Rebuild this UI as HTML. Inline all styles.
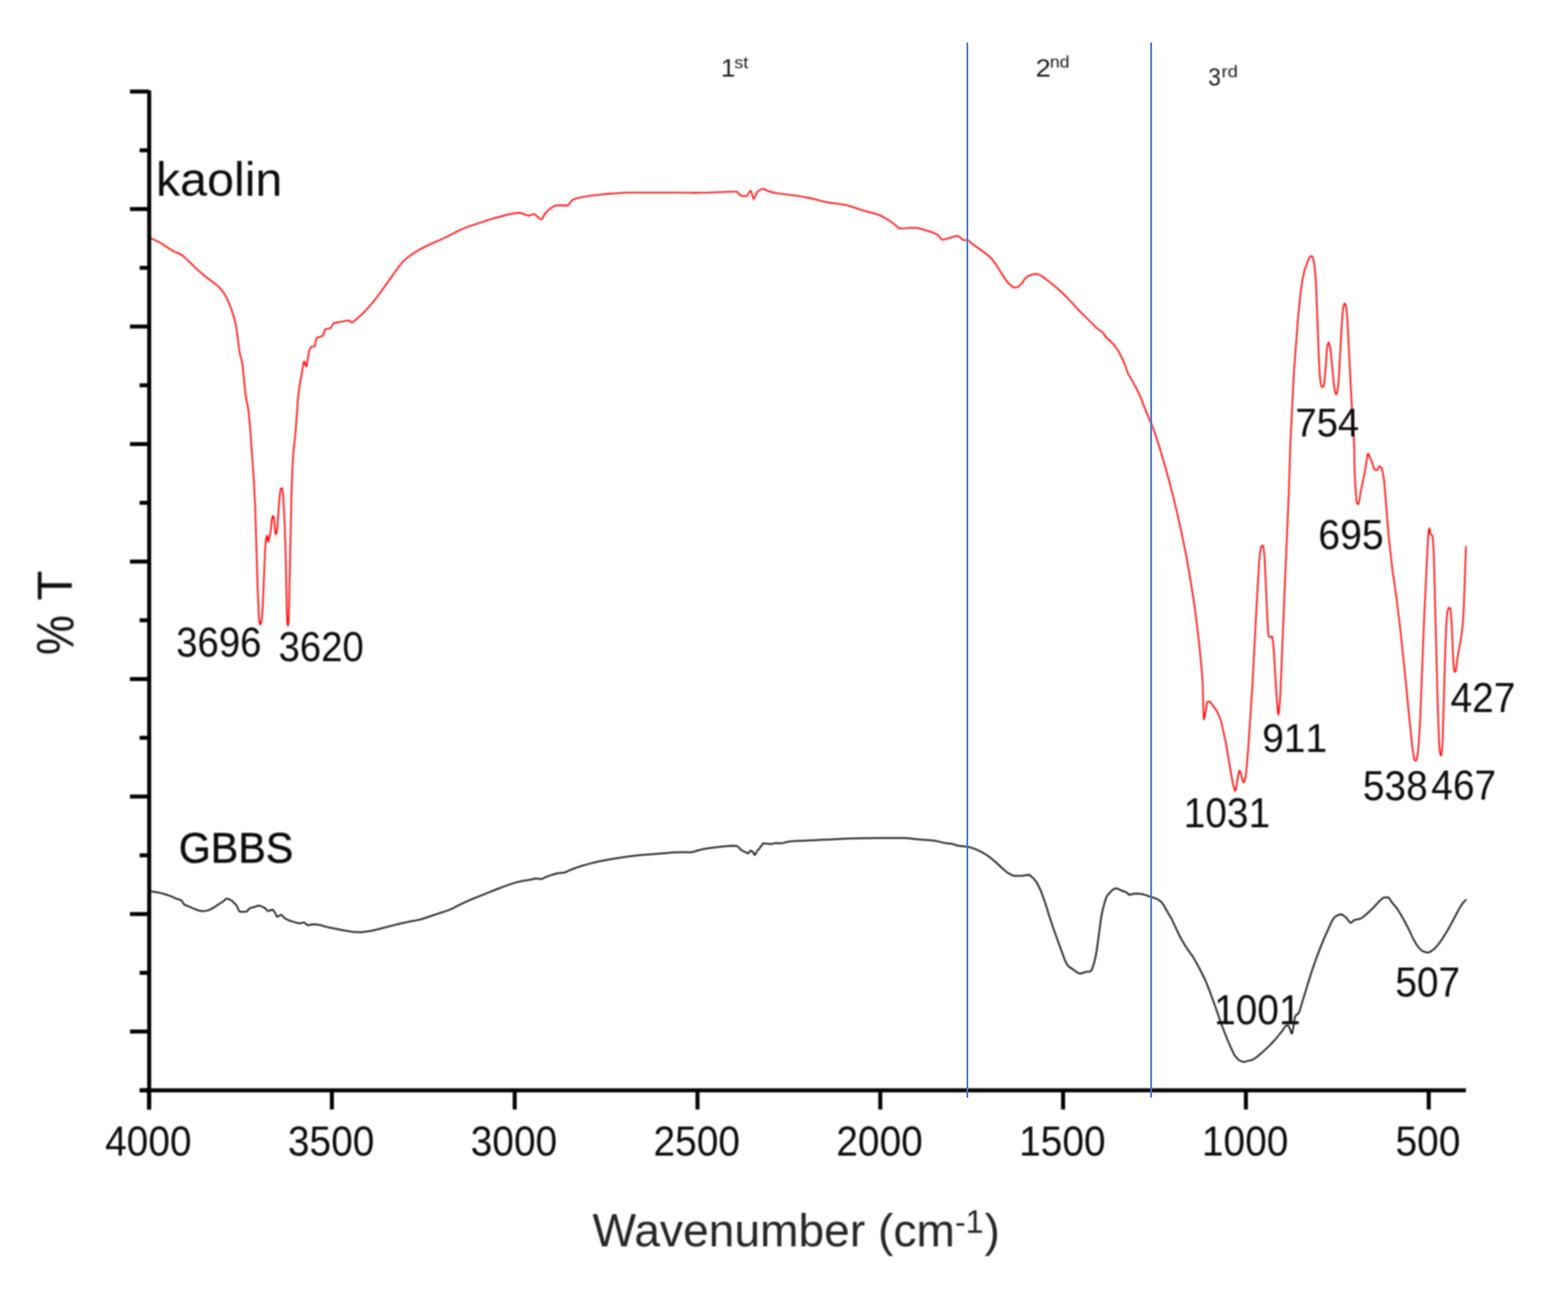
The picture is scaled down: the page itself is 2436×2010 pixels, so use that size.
<!DOCTYPE html>
<html lang="en">
<head>
<meta charset="utf-8">
<title>FTIR spectra of kaolin and GBBS</title>
<style>
html,body{margin:0;padding:0;background:#fff;}
body{width:2436px;height:2010px;overflow:hidden;}
svg{display:block;font-family:"Liberation Sans",sans-serif;font-kerning:none;}
</style>
</head>
<body>
<svg width="2436" height="2010" viewBox="0 0 2436 2010">
<defs><filter id="soft" filterUnits="userSpaceOnUse" x="0" y="0" width="2436" height="2010"><feGaussianBlur stdDeviation="1.2"/></filter><filter id="soft2" filterUnits="userSpaceOnUse" x="0" y="0" width="2436" height="2010"><feGaussianBlur stdDeviation="1.15"/></filter><filter id="soft3" filterUnits="userSpaceOnUse" x="0" y="0" width="2436" height="2010"><feGaussianBlur stdDeviation="0.85"/></filter><filter id="soft4" filterUnits="userSpaceOnUse" x="0" y="0" width="2436" height="2010"><feGaussianBlur stdDeviation="0.7"/></filter></defs>
<rect width="2436" height="2010" fill="#fff"/>
<g id="curves" fill="none" stroke-linejoin="round" stroke-linecap="round">
<polyline filter="url(#soft2)" stroke="#ff0000" stroke-width="2.35" points="232.7,369.3 239.2,372.2 245.7,375.5 252.2,379.0 258.7,383.3 265.2,387.7 271.7,391.3 278.2,393.9 283.2,396.6 289.7,402.5 296.2,408.7 302.7,415.0 308.7,420.7 315.2,426.2 321.7,431.5 328.2,436.3 334.7,441.0 341.2,447.1 347.7,455.0 352.2,462.5 358.7,478.0 363.7,493.3 366.7,506.0 368.7,519.8 371.7,543.9 372.7,549.4 375.7,560.7 376.7,566.2 381.2,610.9 382.2,618.4 385.2,632.5 386.2,638.9 389.2,672.5 394.7,752.2 396.4,785.8 400.2,912.4 402.2,959.5 402.7,964.5 403.2,967.2 403.7,969.1 404.2,970.1 404.5,970.3 404.7,970.1 405.2,968.9 406.4,963.3 407.2,956.0 408.3,940.2 411.7,857.1 412.7,841.7 413.7,835.3 414.2,833.2 414.7,832.2 414.9,832.1 415.2,832.9 416.2,839.6 416.8,841.7 417.2,841.1 420.2,827.1 420.7,824.0 422.2,807.4 422.7,804.7 423.7,802.0 424.2,801.3 424.5,801.2 424.7,801.4 425.2,803.5 426.7,815.1 427.7,826.5 428.2,829.9 428.4,830.2 428.7,829.9 429.2,828.9 430.3,824.4 430.7,820.9 433.7,778.9 435.2,764.3 435.7,760.8 436.2,759.4 437.2,758.3 438.0,758.0 438.2,758.2 438.7,760.1 440.2,773.2 442.2,812.8 443.8,863.0 445.7,952.5 446.2,964.3 446.7,969.6 447.3,972.2 447.7,970.7 448.5,963.3 448.7,957.7 452.7,772.2 453.7,740.9 454.7,719.5 455.7,704.4 459.3,670.0 462.7,621.6 465.2,600.7 471.2,565.7 471.7,563.6 472.2,562.1 472.8,561.5 473.2,562.0 475.2,568.4 475.7,569.2 475.9,569.2 476.2,568.9 476.7,567.3 479.7,547.2 480.5,544.2 482.2,540.5 483.2,539.0 483.7,538.6 488.2,538.4 488.7,537.8 489.2,536.2 491.2,526.9 491.7,525.4 492.2,524.8 498.7,522.6 501.2,521.4 501.7,521.0 502.2,520.3 504.7,512.7 505.2,511.7 505.7,511.3 512.2,509.8 513.7,509.2 514.7,508.0 517.7,502.9 518.7,501.9 525.2,500.5 531.7,499.6 538.2,498.2 542.2,497.9 542.7,498.0 545.2,500.5 545.7,500.9 546.7,500.9 548.7,500.1 555.2,494.4 561.7,488.7 568.2,482.2 574.7,475.1 581.2,467.2 587.7,458.6 594.2,449.8 600.7,440.7 607.2,431.5 613.6,422.6 619.7,414.2 626.2,406.1 632.7,400.4 639.2,395.6 645.7,391.4 652.2,387.6 658.7,384.1 665.2,380.9 671.7,377.9 678.2,375.1 684.7,372.2 691.2,369.3 697.7,366.1 704.2,362.7 710.7,359.1 717.2,356.0 723.7,353.5 730.0,351.2 736.2,349.1 742.7,347.0 749.2,344.8 755.7,342.6 762.2,340.6 768.7,338.7 775.0,337.0 781.2,335.3 787.7,333.5 794.2,332.2 800.7,331.1 807.2,330.5 811.2,331.3 817.7,334.1 821.7,335.0 828.2,332.8 829.7,332.7 831.2,333.3 837.7,338.8 839.7,340.4 840.9,340.8 841.7,340.5 842.7,339.3 846.2,332.6 852.7,325.5 859.2,321.1 863.7,319.1 870.2,318.8 876.7,319.0 881.7,319.5 882.7,319.0 884.7,316.6 887.7,312.0 888.7,311.0 895.2,308.2 901.7,306.6 908.2,305.4 914.7,304.4 921.2,303.6 927.7,302.8 934.2,302.1 940.7,301.5 947.1,301.0 953.2,300.6 959.7,300.2 966.2,299.7 972.7,299.4 979.2,299.2 985.7,299.1 991.7,299.1 998.2,299.1 1004.7,299.1 1011.2,299.1 1017.7,299.1 1024.2,299.1 1030.7,299.1 1037.2,299.1 1043.6,299.1 1049.7,299.1 1056.2,299.2 1062.7,299.3 1069.2,299.4 1075.7,299.5 1082.2,299.5 1088.2,299.4 1094.7,299.3 1101.2,299.1 1107.7,298.8 1114.2,298.6 1120.7,298.3 1127.2,298.1 1133.7,297.8 1140.2,297.6 1144.2,297.6 1145.2,298.0 1150.2,303.4 1151.2,304.0 1157.7,304.8 1159.7,304.8 1160.7,304.0 1164.7,297.5 1165.7,296.6 1166.3,296.4 1166.7,296.7 1167.2,297.7 1169.7,306.7 1170.2,308.0 1170.7,308.7 1171.2,308.7 1171.7,308.3 1172.7,306.6 1175.7,299.4 1176.7,297.9 1181.7,294.4 1184.7,293.4 1186.2,293.4 1192.7,296.6 1199.2,298.5 1205.7,299.9 1211.7,300.8 1218.2,301.6 1224.7,302.4 1231.2,303.3 1237.7,304.2 1244.2,305.2 1250.7,306.3 1257.2,307.5 1263.7,309.0 1270.2,310.6 1276.7,312.3 1283.2,313.9 1289.7,315.0 1296.2,315.9 1302.7,316.7 1309.2,317.6 1315.7,318.8 1322.2,320.6 1328.7,322.8 1335.2,325.1 1341.7,327.2 1348.2,329.0 1354.7,330.4 1361.2,332.3 1367.7,334.9 1374.2,338.2 1380.7,342.0 1387.2,346.6 1393.7,351.8 1396.7,354.4 1398.2,355.0 1404.7,354.7 1411.2,354.2 1417.7,354.0 1424.2,354.0 1430.7,355.4 1437.2,357.4 1443.2,359.1 1449.7,361.4 1456.2,364.5 1457.7,365.7 1462.2,371.4 1463.2,372.1 1464.2,372.4 1470.7,371.2 1477.2,368.8 1483.7,366.9 1487.7,366.3 1488.7,366.7 1495.2,372.0 1496.7,372.8 1503.2,373.2 1504.2,373.3 1505.7,374.3 1510.2,378.9 1516.7,383.3 1523.2,387.8 1529.7,392.8 1536.2,397.8 1541.7,403.2 1548.2,412.3 1554.7,422.6 1561.2,433.2 1567.7,441.0 1573.7,445.9 1575.2,446.6 1580.2,446.2 1582.2,445.2 1588.2,439.1 1592.7,432.3 1597.2,428.9 1603.7,426.4 1609.2,425.3 1613.2,426.2 1619.7,429.5 1626.2,434.6 1632.7,439.7 1639.2,444.9 1645.2,450.2 1651.7,456.3 1658.2,462.7 1664.7,469.5 1671.2,476.8 1677.7,483.6 1684.2,490.0 1690.7,496.5 1696.8,502.5 1703.2,509.1 1709.7,513.9 1713.2,516.7 1718.7,524.5 1725.2,530.0 1731.7,536.9 1738.2,546.7 1744.7,559.4 1748.2,568.0 1752.2,580.0 1758.7,590.8 1765.2,602.6 1771.7,616.3 1778.2,633.4 1784.7,648.8 1791.2,664.1 1797.7,683.0 1804.2,704.4 1810.7,726.7 1817.2,750.1 1823.7,775.3 1830.2,803.1 1836.7,832.4 1843.2,864.7 1849.7,901.8 1856.2,944.0 1862.7,997.3 1867.2,1043.4 1868.4,1060.7 1869.7,1108.5 1870.2,1117.7 1870.7,1117.0 1871.2,1115.3 1873.2,1104.5 1874.7,1094.0 1875.2,1091.6 1875.7,1090.6 1877.7,1089.6 1878.7,1089.5 1879.2,1089.6 1880.2,1090.3 1886.7,1099.2 1890.7,1104.9 1894.7,1113.8 1897.7,1123.1 1904.2,1152.5 1910.7,1190.8 1915.2,1216.5 1917.7,1225.7 1918.2,1227.1 1918.7,1228.1 1919.2,1228.4 1919.7,1227.6 1920.7,1222.1 1924.2,1201.3 1924.7,1199.1 1925.2,1197.5 1925.8,1196.8 1926.2,1197.1 1926.7,1198.3 1930.7,1213.0 1931.2,1214.4 1931.7,1215.2 1932.0,1215.3 1932.2,1215.2 1932.7,1214.6 1933.7,1211.9 1935.2,1205.7 1936.2,1198.3 1939.2,1162.9 1945.7,1064.3 1952.2,940.9 1956.2,872.1 1957.2,861.7 1958.7,851.5 1959.2,849.4 1959.8,848.3 1961.2,847.6 1962.1,847.5 1962.2,847.6 1962.7,849.1 1963.7,856.4 1964.7,867.0 1969.2,966.6 1970.2,982.8 1970.7,987.6 1971.0,988.4 1972.2,989.3 1973.3,989.6 1974.2,989.2 1975.7,988.4 1976.0,988.4 1976.2,988.6 1976.7,990.3 1978.3,1001.9 1979.2,1014.8 1982.7,1074.2 1985.2,1105.8 1985.7,1109.3 1986.0,1110.0 1986.2,1109.7 1986.7,1107.4 1988.3,1090.7 1989.2,1076.5 1995.7,918.0 2002.2,766.5 2004.7,688.0 2010.2,577.4 2016.7,492.7 2020.7,453.4 2023.7,433.0 2026.7,419.4 2033.2,401.9 2034.2,399.9 2036.2,398.0 2037.4,397.5 2037.7,397.6 2038.2,398.0 2039.2,399.7 2040.2,402.2 2040.7,404.0 2041.7,409.9 2042.7,417.9 2043.7,429.4 2044.7,446.1 2049.2,562.4 2050.2,580.1 2051.3,592.0 2052.2,597.7 2052.7,599.6 2053.2,600.4 2054.2,601.1 2055.0,601.3 2055.2,601.2 2055.7,600.7 2056.8,598.5 2057.2,596.6 2058.7,582.0 2061.2,546.3 2061.7,541.0 2062.3,536.7 2063.2,533.6 2063.7,532.5 2064.2,532.1 2064.7,532.7 2066.2,537.6 2067.2,544.3 2072.2,596.2 2073.7,606.7 2074.2,609.1 2074.7,610.5 2075.7,612.1 2076.2,612.3 2076.7,611.7 2078.2,605.6 2079.2,596.1 2080.7,574.8 2084.2,508.7 2086.2,482.5 2086.9,477.7 2087.7,474.1 2088.2,472.5 2088.7,471.5 2089.2,471.3 2089.7,471.8 2090.7,474.0 2091.3,475.9 2091.7,478.4 2093.2,495.6 2099.7,622.7 2102.2,669.2 2103.2,679.7 2103.8,693.4 2104.2,720.2 2104.7,737.1 2105.7,756.0 2107.2,775.5 2107.7,779.5 2108.3,781.9 2109.2,782.7 2110.3,783.1 2110.7,782.6 2111.2,780.9 2114.2,762.2 2120.2,733.9 2124.2,708.6 2124.7,706.1 2125.3,704.7 2125.7,705.0 2126.2,705.8 2131.7,718.8 2134.2,727.0 2134.7,728.2 2135.4,729.0 2137.7,730.3 2139.2,730.6 2139.7,730.3 2140.7,728.4 2142.2,724.9 2142.7,724.2 2143.2,724.0 2143.7,724.2 2144.7,725.1 2146.2,727.2 2147.2,729.7 2148.7,736.2 2149.7,741.9 2150.7,750.5 2157.2,831.2 2163.2,884.9 2169.7,929.6 2176.2,983.6 2182.7,1046.6 2189.2,1112.6 2194.2,1160.7 2196.7,1177.8 2197.2,1180.1 2197.7,1181.3 2200.2,1181.4 2200.7,1180.6 2201.2,1178.8 2203.2,1165.3 2204.2,1153.9 2206.2,1120.9 2212.7,955.5 2218.7,832.6 2219.2,827.4 2219.7,823.9 2220.2,821.3 2220.7,820.5 2221.2,822.4 2222.2,829.0 2222.7,830.3 2224.7,831.5 2225.3,832.1 2225.7,834.1 2226.2,839.3 2227.2,855.3 2227.7,867.7 2233.7,1099.2 2235.7,1151.0 2236.2,1160.6 2236.9,1167.9 2237.7,1171.6 2238.2,1173.0 2238.8,1173.6 2239.2,1172.8 2239.7,1169.9 2240.7,1160.1 2241.2,1151.1 2245.7,998.9 2246.7,974.8 2247.7,958.4 2248.4,951.7 2249.7,946.4 2250.2,945.1 2250.7,944.2 2251.2,944.0 2252.2,944.3 2253.1,944.8 2253.2,945.1 2253.7,948.0 2255.4,971.0 2257.3,1017.3 2258.2,1032.7 2258.7,1039.3 2259.2,1042.4 2260.2,1043.3 2261.2,1043.6 2261.7,1042.2 2264.2,1022.9 2270.7,985.4 2271.7,977.6 2272.7,966.3 2274.3,940.2 2277.4,849.5"/>
<polyline filter="url(#soft3)" stroke="#101010" stroke-width="2.5" points="234.2,1384.4 240.7,1385.4 247.2,1386.6 253.7,1388.2 260.2,1390.2 266.7,1392.7 273.2,1395.6 279.7,1397.8 281.7,1398.7 282.7,1399.6 285.7,1404.6 286.7,1405.5 293.2,1407.9 299.7,1410.8 306.2,1413.5 312.7,1415.3 319.2,1414.9 325.7,1413.2 332.2,1409.6 338.7,1405.3 345.2,1401.3 347.2,1399.9 350.7,1396.3 351.7,1395.9 354.2,1396.1 360.7,1399.3 367.2,1406.2 368.7,1408.8 371.2,1414.4 372.2,1415.8 373.2,1416.2 379.7,1416.2 382.7,1416.1 383.7,1415.6 387.2,1411.4 388.2,1410.6 394.7,1409.0 401.2,1406.8 403.7,1406.8 410.2,1409.6 411.7,1410.6 415.2,1414.5 416.2,1415.1 417.2,1415.2 422.7,1413.0 423.7,1413.0 424.2,1413.3 427.7,1418.6 429.7,1422.7 430.2,1423.5 430.7,1423.9 431.2,1423.9 432.7,1423.3 435.7,1421.3 436.7,1421.1 437.7,1421.4 442.7,1426.7 449.2,1429.8 455.7,1431.9 462.2,1433.8 466.7,1434.2 471.2,1432.9 472.2,1432.9 473.2,1433.4 477.2,1436.8 478.7,1437.3 484.7,1435.8 491.2,1436.0 497.7,1436.9 504.2,1439.0 510.2,1440.4 516.7,1441.7 523.2,1443.0 529.2,1444.2 535.7,1445.5 542.2,1446.6 548.2,1447.4 554.7,1448.0 561.2,1448.0 567.7,1447.3 574.2,1446.3 580.7,1445.0 587.2,1443.5 593.7,1441.8 600.0,1440.1 606.2,1438.5 612.7,1436.9 619.2,1435.3 625.7,1433.8 632.2,1432.4 638.7,1431.1 645.2,1429.9 651.7,1428.5 658.2,1426.7 664.7,1424.5 671.2,1422.2 677.7,1420.1 684.2,1418.0 690.7,1415.9 697.2,1413.6 703.7,1410.8 710.2,1407.4 716.7,1404.2 723.2,1401.1 729.7,1398.2 736.2,1395.5 742.7,1392.9 749.2,1390.3 755.7,1387.7 762.2,1385.1 768.7,1382.5 775.2,1380.0 781.7,1377.4 788.2,1375.1 794.7,1372.9 801.2,1370.9 807.7,1369.3 814.2,1367.9 820.7,1367.0 827.2,1365.7 831.7,1364.5 838.2,1365.2 841.7,1365.5 848.2,1362.2 854.7,1359.9 861.2,1357.8 867.5,1356.2 873.7,1355.8 877.7,1355.2 884.2,1352.1 890.7,1349.5 897.2,1347.1 903.7,1345.0 910.2,1343.1 916.7,1341.4 923.2,1339.8 929.7,1338.3 936.2,1337.0 942.7,1335.8 949.2,1334.6 955.7,1333.5 962.2,1332.4 968.7,1331.4 975.2,1330.5 981.7,1329.7 988.2,1328.9 994.7,1328.3 1001.2,1327.7 1007.7,1327.2 1014.2,1326.7 1020.7,1326.2 1027.2,1325.7 1033.7,1325.2 1040.2,1324.6 1046.7,1324.1 1053.2,1323.9 1059.7,1323.8 1066.2,1323.8 1072.5,1324.0 1078.7,1322.8 1085.2,1320.7 1091.7,1319.1 1098.2,1318.0 1104.7,1317.0 1111.2,1316.2 1117.7,1315.4 1124.2,1314.8 1130.7,1314.2 1137.2,1313.8 1143.7,1314.1 1145.2,1314.3 1146.2,1314.8 1152.7,1321.3 1158.8,1323.8 1161.7,1325.4 1162.7,1325.5 1163.2,1325.1 1165.2,1322.0 1165.7,1321.5 1166.2,1321.2 1167.2,1321.5 1170.2,1324.0 1171.7,1327.2 1172.2,1327.9 1172.7,1328.0 1173.2,1327.6 1176.2,1322.0 1181.7,1315.6 1184.7,1311.0 1185.7,1310.1 1192.2,1310.6 1197.7,1311.2 1204.2,1309.6 1210.7,1309.9 1217.2,1309.4 1223.7,1307.5 1230.2,1306.7 1236.7,1306.3 1243.2,1306.1 1249.7,1305.9 1255.8,1305.6 1262.2,1305.3 1268.7,1305.0 1275.2,1304.6 1281.7,1304.3 1288.2,1304.0 1294.4,1303.7 1300.7,1303.4 1307.2,1303.1 1313.7,1302.8 1320.2,1302.5 1326.7,1302.3 1333.0,1302.2 1339.2,1302.1 1345.7,1302.0 1352.2,1301.9 1358.7,1301.8 1365.2,1301.8 1371.6,1301.8 1377.7,1301.8 1384.2,1301.8 1390.7,1301.8 1397.2,1301.8 1403.7,1301.8 1410.2,1302.1 1416.7,1302.7 1423.2,1303.5 1429.5,1304.1 1435.7,1304.6 1442.2,1305.0 1448.7,1305.6 1455.2,1306.4 1461.7,1308.1 1468.1,1309.5 1474.2,1310.2 1480.7,1311.1 1487.2,1313.5 1493.7,1314.3 1500.2,1315.0 1506.7,1316.1 1513.2,1318.1 1519.7,1320.8 1526.2,1324.1 1532.7,1328.0 1539.2,1332.8 1545.7,1338.2 1552.2,1344.0 1558.7,1350.2 1565.2,1355.6 1571.7,1359.2 1575.7,1360.5 1582.2,1360.5 1588.7,1360.2 1595.2,1359.2 1598.7,1359.0 1599.7,1359.3 1605.7,1364.4 1610.7,1370.9 1617.0,1383.6 1623.2,1400.6 1629.7,1421.7 1636.2,1441.4 1642.7,1459.4 1649.2,1477.3 1654.7,1492.4 1658.2,1498.7 1660.7,1501.6 1667.2,1505.9 1671.2,1508.7 1673.7,1510.9 1677.7,1512.2 1680.2,1512.1 1686.7,1509.5 1692.7,1509.3 1694.2,1508.5 1695.7,1507.0 1696.7,1505.1 1699.7,1496.0 1702.2,1485.4 1704.7,1470.3 1710.7,1425.5 1713.2,1412.5 1717.7,1396.7 1719.2,1392.9 1721.2,1389.8 1727.7,1382.9 1731.7,1380.2 1733.2,1379.9 1736.7,1380.3 1740.7,1382.8 1747.2,1385.0 1750.7,1386.7 1753.7,1389.5 1754.8,1390.0 1761.2,1388.3 1767.7,1387.9 1774.2,1388.7 1780.7,1390.6 1787.2,1393.0 1793.7,1394.9 1800.2,1397.9 1803.7,1400.6 1807.7,1405.7 1814.2,1417.4 1820.7,1428.3 1827.2,1442.5 1833.7,1455.9 1840.2,1467.2 1846.7,1477.1 1853.2,1486.0 1859.7,1497.3 1866.2,1509.6 1872.7,1522.9 1879.2,1539.3 1885.7,1557.1 1892.2,1575.4 1898.7,1593.9 1905.2,1610.9 1911.5,1625.6 1917.7,1638.8 1922.7,1644.9 1925.7,1647.4 1931.2,1649.4 1933.7,1649.4 1940.2,1647.6 1946.3,1646.0 1952.7,1641.7 1959.2,1636.3 1965.7,1630.3 1972.2,1624.1 1978.7,1617.5 1985.2,1609.8 1991.7,1601.8 1997.2,1593.9 1998.7,1592.5 1999.7,1592.1 2000.3,1592.0 2000.7,1592.2 2001.2,1592.6 2004.2,1598.7 2006.2,1604.8 2006.8,1605.5 2007.2,1605.2 2007.7,1604.0 2010.2,1590.9 2011.2,1582.6 2011.9,1579.3 2012.7,1577.9 2014.2,1576.4 2016.7,1574.7 2017.7,1573.4 2018.7,1571.1 2025.2,1550.0 2031.7,1528.7 2038.2,1507.9 2044.7,1489.2 2051.2,1472.0 2057.7,1456.2 2064.0,1442.3 2069.2,1430.8 2073.2,1425.0 2075.7,1422.9 2081.2,1420.5 2083.7,1420.3 2085.7,1421.0 2091.2,1425.1 2096.7,1432.3 2097.7,1433.1 2098.7,1433.4 2099.7,1433.1 2103.7,1429.2 2110.2,1427.7 2114.7,1426.6 2121.2,1421.5 2127.7,1415.7 2134.2,1409.4 2140.7,1402.1 2147.2,1395.8 2149.2,1394.4 2150.8,1394.0 2156.7,1394.0 2157.2,1394.2 2158.2,1395.1 2162.7,1402.2 2169.2,1409.5 2175.7,1419.6 2182.2,1431.2 2188.7,1443.7 2195.2,1457.7 2201.2,1468.2 2207.7,1475.8 2210.7,1477.8 2216.7,1479.6 2219.2,1479.6 2222.7,1478.1 2228.2,1474.1 2234.7,1466.7 2241.2,1457.7 2247.7,1447.2 2254.2,1435.7 2260.7,1423.3 2267.2,1411.1 2273.2,1401.8 2277.4,1397.9"/>
</g>
<g id="axes" filter="url(#soft)" stroke="#000" stroke-width="6.2" stroke-linecap="butt" fill="none">
<line x1="231.8" y1="140.6" x2="231.8" y2="1723.4"/>
<line x1="216.9" y1="1693.6" x2="2277.4" y2="1693.6"/>
<line x1="201.9" y1="142.2" x2="231.8" y2="142.2"/>
<line x1="216.9" y1="233.5" x2="231.8" y2="233.5"/>
<line x1="201.9" y1="324.7" x2="231.8" y2="324.7"/>
<line x1="216.9" y1="416.0" x2="231.8" y2="416.0"/>
<line x1="201.9" y1="507.2" x2="231.8" y2="507.2"/>
<line x1="216.9" y1="598.5" x2="231.8" y2="598.5"/>
<line x1="201.9" y1="689.8" x2="231.8" y2="689.8"/>
<line x1="216.9" y1="781.0" x2="231.8" y2="781.0"/>
<line x1="201.9" y1="872.3" x2="231.8" y2="872.3"/>
<line x1="216.9" y1="963.5" x2="231.8" y2="963.5"/>
<line x1="201.9" y1="1054.8" x2="231.8" y2="1054.8"/>
<line x1="216.9" y1="1146.0" x2="231.8" y2="1146.0"/>
<line x1="201.9" y1="1237.3" x2="231.8" y2="1237.3"/>
<line x1="216.9" y1="1328.6" x2="231.8" y2="1328.6"/>
<line x1="201.9" y1="1419.8" x2="231.8" y2="1419.8"/>
<line x1="216.9" y1="1511.1" x2="231.8" y2="1511.1"/>
<line x1="201.9" y1="1602.3" x2="231.8" y2="1602.3"/>
<line x1="216.9" y1="1693.6" x2="231.8" y2="1693.6"/>
<line x1="231.6" y1="1693.6" x2="231.6" y2="1723.4"/>
<line x1="515.6" y1="1693.6" x2="515.6" y2="1723.4"/>
<line x1="799.6" y1="1693.6" x2="799.6" y2="1723.4"/>
<line x1="1083.6" y1="1693.6" x2="1083.6" y2="1723.4"/>
<line x1="1367.6" y1="1693.6" x2="1367.6" y2="1723.4"/>
<line x1="1651.6" y1="1693.6" x2="1651.6" y2="1723.4"/>
<line x1="1935.6" y1="1693.6" x2="1935.6" y2="1723.4"/>
<line x1="2219.6" y1="1693.6" x2="2219.6" y2="1723.4"/>
</g>
<g id="dividers" filter="url(#soft4)" stroke="#4472c4" stroke-width="2.6" stroke-linecap="round">
<line x1="1502.9" y1="67" x2="1502.9" y2="1704"/>
<line x1="1788.4" y1="67" x2="1788.4" y2="1704"/>
</g>
<g id="labels" filter="url(#soft)">
<text transform="translate(230.4,1794.5) scale(0.9292,1)" font-size="65.0" text-anchor="middle" fill="#0c0c0c">4000</text>
<text transform="translate(514.4,1794.5) scale(0.9292,1)" font-size="65.0" text-anchor="middle" fill="#0c0c0c">3500</text>
<text transform="translate(798.4,1794.5) scale(0.9292,1)" font-size="65.0" text-anchor="middle" fill="#0c0c0c">3000</text>
<text transform="translate(1082.4,1794.5) scale(0.9292,1)" font-size="65.0" text-anchor="middle" fill="#0c0c0c">2500</text>
<text transform="translate(1366.4,1794.5) scale(0.9292,1)" font-size="65.0" text-anchor="middle" fill="#0c0c0c">2000</text>
<text transform="translate(1650.4,1794.5) scale(0.9292,1)" font-size="65.0" text-anchor="middle" fill="#0c0c0c">1500</text>
<text transform="translate(1934.4,1794.5) scale(0.9292,1)" font-size="65.0" text-anchor="middle" fill="#0c0c0c">1000</text>
<text transform="translate(2218.4,1794.5) scale(0.9292,1)" font-size="65.0" text-anchor="middle" fill="#0c0c0c">500</text>
<text transform="translate(273.7,1020.2) scale(0.9255,1)" font-size="64.4" fill="#0c0c0c">3696</text>
<text transform="translate(432.7,1026.5) scale(0.9255,1)" font-size="64.4" fill="#0c0c0c">3620</text>
<text transform="translate(2012.4,677.9) scale(0.9520,1)" font-size="62.5" fill="#0c0c0c">754</text>
<text transform="translate(2048.0,853.3) scale(0.9457,1)" font-size="64.5" fill="#0c0c0c">695</text>
<text transform="translate(1961.0,1168.2) scale(0.9557,1)" font-size="63.2" fill="#0c0c0c">911</text>
<text transform="translate(1838.9,1284.6) scale(0.9292,1)" font-size="65.0" fill="#0c0c0c">1031</text>
<text transform="translate(2117.2,1242.6) scale(0.9221,1)" font-size="65.5" fill="#0c0c0c">538</text>
<text transform="translate(2223.6,1242.3) scale(0.9292,1)" font-size="65.0" fill="#0c0c0c">467</text>
<text transform="translate(2253.5,1106.0) scale(0.9437,1)" font-size="64.0" fill="#0c0c0c">427</text>
<text transform="translate(1886.2,1591.0) scale(0.9292,1)" font-size="65.0" fill="#0c0c0c">1001</text>
<text transform="translate(2167.7,1547.5) scale(0.9292,1)" font-size="65.0" fill="#0c0c0c">507</text>
<text transform="translate(242.22,304.46) scale(0.7520,0.7374)" font-size="100" fill="#0c0c0c"  xml:space="preserve">kaolin</text>
<text transform="translate(277.80,1340.34) scale(0.6397,0.6643)" font-size="100" fill="#0c0c0c" stroke="#0c0c0c" stroke-width="1.1" stroke-linejoin="round" xml:space="preserve">GBBS</text>
<text transform="translate(114.10,1017.44) rotate(-90) scale(0.6960,0.8086)" font-size="100" fill="#0c0c0c"  xml:space="preserve">% <tspan x="121.73" y="-3.33" font-size="94.08" textLength="66.64" lengthAdjust="spacingAndGlyphs">T</tspan></text>
<text transform="translate(1120.08,119.10) scale(0.4023,0.3956)" font-size="100" fill="#1c1c1c"  xml:space="preserve">1<tspan x="51.32" y="-32.01" font-size="66.89" textLength="54.16" lengthAdjust="spacingAndGlyphs">st</tspan></text>
<text transform="translate(1608.89,119.10) scale(0.4220,0.3842)" font-size="100" fill="#1c1c1c"  xml:space="preserve">2<tspan x="52.49" y="-36.57" font-size="65.51" textLength="72.62" lengthAdjust="spacingAndGlyphs">nd</tspan></text>
<text transform="translate(1877.07,133.01) scale(0.3537,0.3887)" font-size="100" fill="#1c1c1c"  xml:space="preserve">3<tspan x="58.53" y="-33.37" font-size="67.21" textLength="71.69" lengthAdjust="spacingAndGlyphs">rd</tspan></text>
<text transform="translate(920.4,1936.0) scale(0.996,1)" font-size="72" fill="#26262a" style="font-kerning:normal">Wavenumber (cm<tspan x="565.5" y="-20.7" font-size="50">-1</tspan><tspan x="611.5" y="0">)</tspan></text>
</g>
</svg>
</body>
</html>
